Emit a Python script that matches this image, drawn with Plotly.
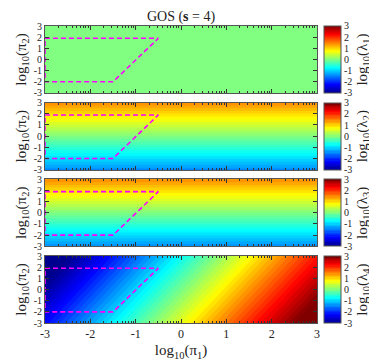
import plotly.graph_objects as go
from plotly.subplots import make_subplots

log_pi1 = [-3, -2, -1, 0, 1, 2, 3]
log_pi2 = [-3, -2, -1, 0, 1, 2, 3]

# log10(lambda_1): flat over the whole plane
lam1 = [0, 0, 0, 0, 0, 0, 0]
# log10(lambda_2), log10(lambda_3): depend on log10(pi_2) only (bottom -> top)
lam2 = [-1.4, -0.95, -0.47, 0.0, 0.47, 0.95, 1.45]
lam3 = [-1.4, -0.95, -0.47, 0.0, 0.47, 0.95, 1.45]
# log10(lambda_4): rows = log10(pi_2) from -3 to 3, cols = log10(pi_1) from -3 to 3
lam4 = [
    [-2.24, -1.29, -0.34, 0.61, 1.56, 2.51, 3.46],
    [-2.46, -1.51, -0.56, 0.39, 1.34, 2.29, 3.24],
    [-2.68, -1.73, -0.78, 0.17, 1.12, 2.07, 3.02],
    [-2.90, -1.95, -1.00, -0.05, 0.90, 1.85, 2.80],
    [-3.12, -2.17, -1.22, -0.27, 0.68, 1.63, 2.58],
    [-3.34, -2.39, -1.44, -0.49, 0.46, 1.41, 2.36],
    [-3.56, -2.61, -1.66, -0.71, 0.24, 1.19, 2.14],
]

# dashed region boundary (log10 pi1, log10 pi2)
region_x = [-3, -0.5, -1.5, -3, -3]
region_y = [1.9, 1.9, -2.0, -2.0, 1.9]

tick_vals = [-3, -2, -1, 0, 1, 2, 3]
tick_text = ['-3', '-2', '-1', '0', '1', '2', '3']

jet = [[0.0, 'rgb(0,0,143)'], [0.125, 'rgb(0,0,255)'], [0.375, 'rgb(0,255,255)'],
       [0.625, 'rgb(255,255,0)'], [0.875, 'rgb(255,0,0)'], [1.0, 'rgb(128,0,0)']]

FONT = 'Liberation Serif, DejaVu Serif, serif'

fig = make_subplots(rows=4, cols=1, shared_xaxes=True, vertical_spacing=0.0327)

panel_h = 0.2255
centers = [0.8873, 0.629, 0.371, 0.1127]

def cbar(i):
    return dict(
        x=1.025, xanchor='left', xpad=0,
        y=centers[i - 1], yanchor='middle', len=panel_h, lenmode='fraction', ypad=0,
        thickness=17, outlinecolor='#555', outlinewidth=1,
        tickvals=tick_vals, ticktext=tick_text, ticks='',
        tickfont=dict(family=FONT, size=10, color='#222'),
        title=dict(text='log<sub>10</sub>(λ<sub>%d</sub>)' % i, side='right',
                   font=dict(family=FONT, size=15, color='#222')),
    )

# panel 1: constant field
fig.add_trace(go.Heatmap(x=[log_pi1[0], log_pi1[-1]], y=[log_pi2[0], log_pi2[-1]],
                         z=[[lam1[0], lam1[0]], [lam1[-1], lam1[-1]]],
                         colorscale=jet, zmin=-3, zmax=3, zsmooth='best',
                         colorbar=cbar(1), hoverinfo='skip'), row=1, col=1)

for i, col in [(2, lam2), (3, lam3)]:
    fig.add_trace(go.Contour(x=[log_pi1[0], log_pi1[-1]], y=log_pi2,
                             z=[[v, v] for v in col],
                             colorscale=jet, zmin=-3, zmax=3,
                             contours=dict(coloring='fill', start=-3, end=3, size=0.12),
                             line=dict(width=0), colorbar=cbar(i), hoverinfo='skip'),
                  row=i, col=1)

fig.add_trace(go.Contour(x=log_pi1, y=log_pi2, z=lam4,
                         colorscale=jet, zmin=-3, zmax=3,
                         contours=dict(coloring='fill', start=-3, end=3, size=0.12),
                         line=dict(width=0), colorbar=cbar(4), hoverinfo='skip'),
              row=4, col=1)

for r in range(1, 5):
    fig.add_trace(go.Scatter(x=region_x, y=region_y, mode='lines',
                             line=dict(color='#ff00ff', width=1.6, dash='5px,3px'),
                             showlegend=False, hoverinfo='skip'), row=r, col=1)

minor_x = [i + m for i in range(-3, 3) for m in
           [0.301, 0.477, 0.602, 0.699, 0.778, 0.845, 0.903, 0.954]]

for r in range(1, 5):
    fig.update_xaxes(range=[-3, 3], tickvals=tick_vals, ticktext=tick_text,
                     ticks='inside', ticklen=4, tickcolor='#333',
                     minor=dict(tickvals=minor_x, ticks='inside', ticklen=2, tickcolor='#333'),
                     showline=True, mirror='ticks', linecolor='#555', linewidth=1,
                     showgrid=False, zeroline=False,
                     tickfont=dict(family=FONT, size=12, color='#222'),
                     row=r, col=1)
    fig.update_yaxes(range=[-3, 3], tickvals=tick_vals, ticktext=tick_text,
                     ticks='inside', ticklen=4, tickcolor='#333',
                     showline=True, mirror='ticks', linecolor='#555', linewidth=1,
                     showgrid=False, zeroline=False,
                     tickfont=dict(family=FONT, size=10, color='#222'),
                     title=dict(text='log<sub>10</sub>(π<sub>2</sub>)', standoff=3,
                                font=dict(family=FONT, size=15, color='#222')),
                     row=r, col=1)

fig.update_xaxes(title=dict(text='log<sub>10</sub>(π<sub>1</sub>)', standoff=4,
                            font=dict(family=FONT, size=15, color='#222')), row=4, col=1)

fig.update_layout(
    width=377, height=360,
    margin=dict(l=34, r=61, t=17, b=37),
    paper_bgcolor='white', plot_bgcolor='white',
    showlegend=False,
    title=dict(text='GOS (<b>s</b> = 4)', x=0.5, xref='paper', y=0.978, yanchor='middle',
               font=dict(family=FONT, size=14, color='#222')),
)

fig.write_html("out.html")
